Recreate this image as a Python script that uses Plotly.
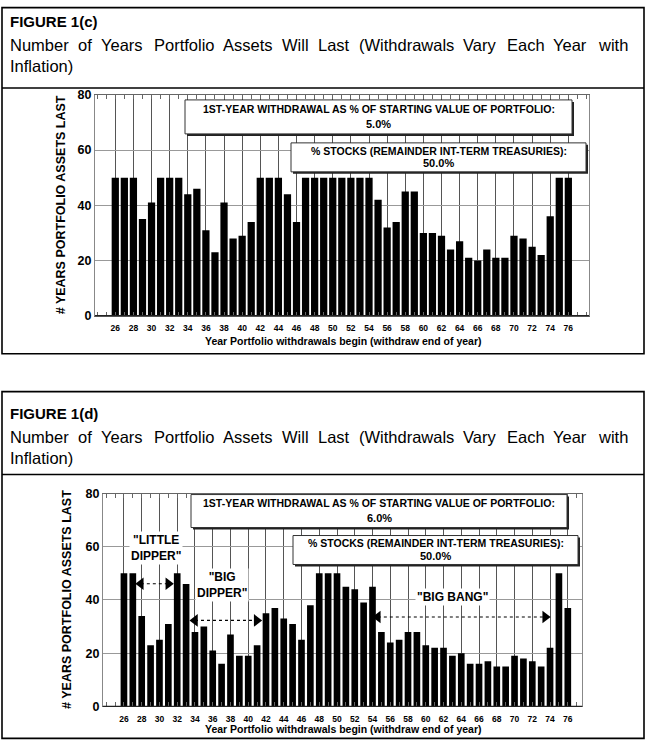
import plotly.graph_objects as go

# ---------------- data ----------------
years = list(range(26, 77))
tick_years = list(range(26, 77, 2))
tick_labels = [str(v) for v in tick_years]

years_last_c = [50, 50, 50, 35, 41, 50, 50, 50, 44, 46,
                31, 23, 41, 28, 29, 34, 50, 50, 50, 44,
                34, 50, 50, 50, 50, 50, 50, 50, 50, 42,
                32, 34, 45, 45, 30, 30, 29, 24, 27, 21,
                20, 24, 21, 21, 29, 28, 25, 22, 36, 50,
                50]
years_last_d = [50, 50, 34, 23, 25, 31, 50, 46, 28, 30,
                21, 16, 27, 19, 19, 23, 35, 37, 33, 31,
                25, 38, 50, 50, 50, 45, 44, 39, 45, 28,
                24, 25, 28, 28, 23, 22, 22, 19, 20, 16,
                16, 17, 15, 15, 19, 18, 17, 15, 22, 50,
                37]

titles = ["FIGURE 1(c)", "FIGURE 1(d)"]
subtitle_1 = "Number of Years Portfolio Assets Will Last (Withdrawals Vary Each Year with"
subtitle_2 = "Inflation)"
withdrawal_rate = ["5.0%", "6.0%"]
stock_share = ["50.0%", "50.0%"]
box1_label = "1ST-YEAR WITHDRAWAL AS % OF STARTING VALUE OF PORTFOLIO:"
box2_label = "% STOCKS (REMAINDER INT-TERM TREASURIES):"
y_title = "# YEARS PORTFOLIO ASSETS LAST"
x_title = "Year Portfolio withdrawals begin (withdraw end of year)"

# period call-outs on figure 1(d)
period_labels = ['"LITTLE<br>DIPPER"', '"BIG<br>DIPPER"', '"BIG BANG"']
period_label_x = [29.6, 37.0, 63.0]
period_label_y = [59.7, 45.5, 41.1]
period_start = [27.35, 33.45, 54.05]
period_end = [31.55, 41.5, 74.0]
period_arrow_y = [46.1, 32.3, 33.6]

# ---------------- helpers (pixel -> paper) ----------------
W, H = 647, 741
def px(x):
    return x / W
def py(y):
    ys = max(0.6, (y - 6.0) / 0.982)
    return 1 - ys / H

FONT = "Liberation Sans, Arial, Helvetica, sans-serif"

fig = go.Figure()

panels = [
    dict(vals=years_last_c, xa="x", ya="y", xdom=(95, 589), ydom=(94, 315),
         xr=(23.76, 78.28), width=0.8,
         frame=(2, 3, 644, 353), sep=87, head=(21, 44, 65),
         box1=(185, 99, 572, 133), box2=(291, 142, 586, 171),
         ytitle_x=61, xtitle_y=340),
    dict(vals=years_last_d, xa="x2", ya="y2", xdom=(103, 582), ydom=(493, 706),
         xr=(23.64, 77.6), width=0.75,
         frame=(2, 391, 644, 738), sep=474, head=(413, 436, 457),
         box1=(191, 494, 567, 527), box2=(293, 535, 578, 564),
         ytitle_x=67, xtitle_y=729),
]

shapes = []
annotations = []

# Arial widths (per 1000 em) for justified subtitle
AW = {'N': 722, 'u': 556, 'm': 833, 'b': 556, 'e': 556, 'r': 333, 'o': 556, 'f': 278,
      'Y': 667, 'a': 556, 's': 500, 'P': 667, 't': 278, 'l': 222, 'i': 222, 'A': 667,
      'W': 944, 'L': 556, '(': 333, 'h': 556, 'd': 556, 'w': 722, 'V': 667, 'y': 500,
      'E': 667, 'c': 500, ')': 333}
SUB_SIZE = 16.5
def word_w(wd):
    return sum(AW.get(ch, 556) for ch in wd) / 1000 * SUB_SIZE

for i, p in enumerate(panels):
    fig.add_trace(go.Bar(x=years, y=p["vals"], xaxis=p["xa"], yaxis=p["ya"],
                         marker=dict(color="black", line=dict(width=0)),
                         width=p["width"], hoverinfo="x+y"))
    ax_suffix = "" if i == 0 else "2"
    fig.update_layout(**{
        "xaxis" + ax_suffix: dict(
            domain=[px(p["xdom"][0]), px(p["xdom"][1])], anchor="y" + ax_suffix,
            range=list(p["xr"]), tickmode="array", tickvals=tick_years, ticktext=tick_labels,
            tickfont=dict(family=FONT, size=8.5, color="black", weight="bold"),
            showgrid=True, gridcolor="#555", gridwidth=1, zeroline=False,
            showline=True, linecolor="#666", linewidth=1, mirror="allticks",
            ticks="inside", ticklen=4, tickcolor="#666",
            minor=dict(dtick=1, tick0=27, ticks="inside", ticklen=4, tickcolor="#666", showgrid=False),
            ticklabelstandoff=4, fixedrange=True),
        "yaxis" + ax_suffix: dict(
            domain=[py(p["ydom"][1]), py(p["ydom"][0])], anchor="x" + ax_suffix,
            range=[0, 80], tickvals=[0, 20, 40, 60, 80],
            tickfont=dict(family=FONT, size=12.5, color="black", weight="bold"),
            showgrid=True, gridcolor="#999", gridwidth=1, zeroline=False,
            showline=True, linecolor="#888", linewidth=1, mirror=True,
            ticks="", fixedrange=True),
    })

    # dark baseline
    shapes.append(dict(type="line", xref="paper", yref="paper",
                       x0=px(p["xdom"][0]), x1=px(p["xdom"][1]),
                       y0=py(p["ydom"][1]), y1=py(p["ydom"][1]),
                       line=dict(color="#222", width=1.2), layer="above"))

    # outer frame and header separator
    fx0, fy0, fx1, fy1 = p["frame"]
    shapes.append(dict(type="rect", xref="paper", yref="paper",
                       x0=px(fx0), x1=px(fx1), y0=py(fy1), y1=py(fy0),
                       line=dict(color="black", width=1.6), fillcolor="rgba(0,0,0,0)"))
    shapes.append(dict(type="line", xref="paper", yref="paper",
                       x0=px(fx0), x1=px(fx1), y0=py(p["sep"]), y1=py(p["sep"]),
                       line=dict(color="black", width=1.6)))

    # header texts
    annotations.append(dict(xref="paper", yref="paper", x=px(8), y=py(p["head"][0]),
                            xanchor="left", yanchor="middle", showarrow=False,
                            text=titles[i],
                            font=dict(family=FONT, size=15, color="black", weight="bold")))
    words = subtitle_1.split(" ")
    widths = [word_w(wd) for wd in words]
    left, right = 8, 625
    gap = (right - left - sum(widths)) / (len(words) - 1)
    cur = left
    for wd, ww in zip(words, widths):
        annotations.append(dict(xref="paper", yref="paper", x=px(cur), y=py(p["head"][1]),
                                xanchor="left", yanchor="middle", showarrow=False, text=wd,
                                font=dict(family=FONT, size=SUB_SIZE, color="black")))
        cur += ww + gap
    annotations.append(dict(xref="paper", yref="paper", x=px(8), y=py(p["head"][2]),
                            xanchor="left", yanchor="middle", showarrow=False, text=subtitle_2,
                            font=dict(family=FONT, size=SUB_SIZE, color="black")))

    # info boxes with drop shadow
    for b, l1, l2 in ((p["box1"], box1_label, withdrawal_rate[i]),
                      (p["box2"], box2_label, stock_share[i])):
        bx0, by0, bx1, by1 = b
        shapes.append(dict(type="rect", xref="paper", yref="paper",
                           x0=px(bx0 + 2), x1=px(bx1 + 2), y0=py(by1 + 2), y1=py(by0 + 2),
                           line=dict(width=0), fillcolor="#222", layer="above"))
        shapes.append(dict(type="rect", xref="paper", yref="paper",
                           x0=px(bx0), x1=px(bx1), y0=py(by1), y1=py(by0),
                           line=dict(color="#333", width=1), fillcolor="white", layer="above"))
        cx = (bx0 + bx1) / 2
        hgt = by1 - by0
        annotations.append(dict(xref="paper", yref="paper", x=px(cx), y=py(by0 + hgt * 0.27),
                                xanchor="center", yanchor="middle", showarrow=False, text=l1,
                                font=dict(family=FONT, size=10.5, color="black", weight="bold")))
        annotations.append(dict(xref="paper", yref="paper", x=px(cx), y=py(by0 + hgt * 0.70),
                                xanchor="center", yanchor="middle", showarrow=False, text=l2,
                                font=dict(family=FONT, size=11, color="black", weight="bold")))

    # axis titles
    annotations.append(dict(xref="paper", yref="paper", x=px(p["ytitle_x"]),
                            y=py((p["ydom"][0] + p["ydom"][1]) / 2),
                            xanchor="center", yanchor="middle", showarrow=False, textangle=-90,
                            text=y_title,
                            font=dict(family=FONT, size=12.5, color="black", weight="bold")))
    annotations.append(dict(xref="paper", yref="paper", x=px(343), y=py(p["xtitle_y"]),
                            xanchor="center", yanchor="middle", showarrow=False, text=x_title,
                            font=dict(family=FONT, size=10.5, color="black", weight="bold")))

# period arrows on figure 1(d)
head_off = 0.55
for x0, x1, yv in zip(period_start, period_end, period_arrow_y):
    fig.add_trace(go.Scatter(x=[x0 + head_off, x1 - head_off], y=[yv, yv], xaxis="x2", yaxis="y2",
                             mode="lines", line=dict(color="black", width=1.2, dash="3px,3px"),
                             hoverinfo="skip"))
    fig.add_trace(go.Scatter(x=[x0 + head_off, x1 - head_off], y=[yv, yv], xaxis="x2", yaxis="y2",
                             mode="markers",
                             marker=dict(symbol=["triangle-left", "triangle-right"], size=11,
                                         color="black", line=dict(width=0)),
                             hoverinfo="skip"))
for t, lx, ly in zip(period_labels, period_label_x, period_label_y):
    annotations.append(dict(xref="x2", yref="y2", x=lx, y=ly, text=t, showarrow=False,
                            xanchor="center", yanchor="middle", bgcolor="white", borderpad=1,
                            font=dict(family=FONT, size=12, color="black", weight="bold")))

fig.update_layout(width=W, height=H, margin=dict(l=0, r=0, t=0, b=0),
                  paper_bgcolor="white", plot_bgcolor="white", showlegend=False,
                  shapes=shapes, annotations=annotations, barmode="overlay")

fig.write_html(
    "out.html",
    config={"displayModeBar": False, "responsive": False},
    post_script=("document.documentElement.style.margin='0';"
                 "document.documentElement.style.padding='0';"
                 "document.body.style.margin='0';document.body.style.padding='0';"
                 "document.body.style.overflow='hidden';"),
)
